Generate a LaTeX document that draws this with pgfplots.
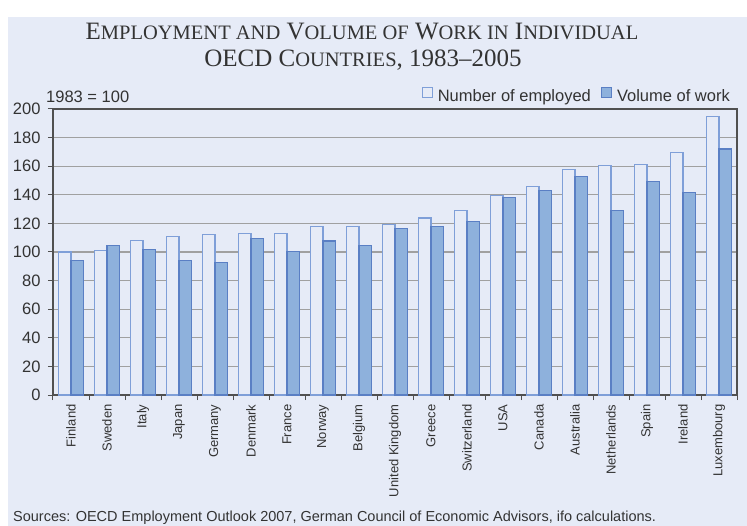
\documentclass[border=0pt]{standalone}
\usepackage{pgfplots}
\pgfplotsset{compat=1.18}
\usepackage{fontspec}
\setmainfont{Liberation Sans}
\newfontfamily\seriffont[Ligatures=TeX]{Liberation Serif}
\definecolor{panel}{HTML}{E6EBF7}
\definecolor{lightfill}{HTML}{E6EBF7}
\definecolor{lightdraw}{HTML}{7F9FD8}
\definecolor{darkfill}{HTML}{8EB1DC}
\definecolor{darkdraw}{HTML}{5A7FC4}
\definecolor{gridc}{HTML}{A0A0A0}
\definecolor{axisc}{HTML}{505050}
\definecolor{textc}{HTML}{333333}
\newcommand\sm[1]{{\fontsize{20.5bp}{20.5bp}\selectfont #1}}
\begin{document}
\begin{tikzpicture}
\fill[white] (0,0) rectangle (747bp,526bp);
\fill[panel] (8bp,0) rectangle (747bp,509bp);
\node[anchor=base, text=textc, inner sep=0pt] at (362bp,486bp)
  {\seriffont\fontsize{25bp}{25bp}\selectfont E\sm{MPLOYMENT AND} V\sm{OLUME OF} W\sm{ORK IN} I\sm{NDIVIDUAL}};
\node[anchor=base, text=textc, inner sep=0pt] at (363bp,459bp)
  {\seriffont\fontsize{25bp}{25bp}\selectfont OECD C\sm{OUNTRIES}, 1983–2005};
\node[anchor=base west, text=textc, inner sep=0pt, font=\fontsize{16.5bp}{16.5bp}\selectfont] at (46bp,423bp) {1983 = 100};
\node[anchor=base west, text=textc, inner sep=0pt, font=\fontsize{14.5bp}{14.5bp}\selectfont] at (13bp,5bp) {Sources: OECD Employment Outlook 2007, German Council of Economic Advisors, ifo calculations.};
\begin{axis}[
  at={(53bp,131bp)}, anchor=south west,
  scale only axis, width=684bp, height=286bp,
  xmin=-0.5, xmax=18.5, ymin=0, ymax=200,
  ybar=0pt, bar width=0.34,
  axis line style={draw=axisc, line width=1.2bp},
  tick align=outside, tick pos=left,
  major tick length=5bp,
  tick style={draw=axisc, line width=1bp},
  ytick={0,20,...,200},
  ymajorgrids, grid style={draw=gridc, line width=1.3bp},
  xtick={-0.5,0.5,...,18.5}, xticklabel=\empty,
  extra x ticks={0,1,...,18},
  extra x tick labels={Finland,Sweden,Italy,Japan,Germany,Denmark,France,Norway,Belgium,United Kingdom,Greece,Switzerland,USA,Canada,Australia,Netherlands,Spain,Ireland,Luxembourg},
  extra x tick style={major tick length=0pt, grid=none,
     xticklabel style={yshift=-6bp, rotate=90, anchor=east, font=\fontsize{13bp}{13bp}\selectfont, text=textc}},
  yticklabel style={xshift=-4bp, font=\fontsize{16.5bp}{16.5bp}\selectfont, text=textc},
  /pgf/number format/assume math mode=true,
  legend columns=2,
  legend style={at={(1,1)}, anchor=south east, xshift=-5bp, yshift=4bp,
     draw=none, fill=none, inner sep=0pt,
     font=\fontsize{16.5bp}{16.5bp}\selectfont, text=textc,
     /tikz/every even column/.append style={column sep=8bp}},
  legend image code/.code={\draw[#1, line width=1bp] (0bp,-1bp) rectangle (10bp,9bp); \path (13bp,0bp);},
]
\addplot[fill=lightfill, draw=lightdraw, line width=1.2bp] coordinates {
(0,100) (1,101) (2,108) (3,111) (4,112) (5,113) (6,113) (7,117.8) (8,117.8) (9,119.4)
(10,123.8) (11,129) (12,139.3) (13,146) (14,157.5) (15,160.5) (16,161.2) (17,169.6) (18,194.9)};
\addplot[fill=darkfill, draw=darkdraw, line width=1.2bp] coordinates {
(0,94.2) (1,104.7) (2,101.9) (3,94.2) (4,92.8) (5,109.6) (6,100.5) (7,107.7) (8,104.4) (9,116.6)
(10,118) (11,121.5) (12,137.9) (13,142.8) (14,152.6) (15,129.2) (16,149.5) (17,141.6) (18,172)};
\legend{Number of employed, Volume of work}
\end{axis}
\pgfresetboundingbox
\useasboundingbox (0,0) rectangle (747bp,526bp);
\end{tikzpicture}
\end{document}
